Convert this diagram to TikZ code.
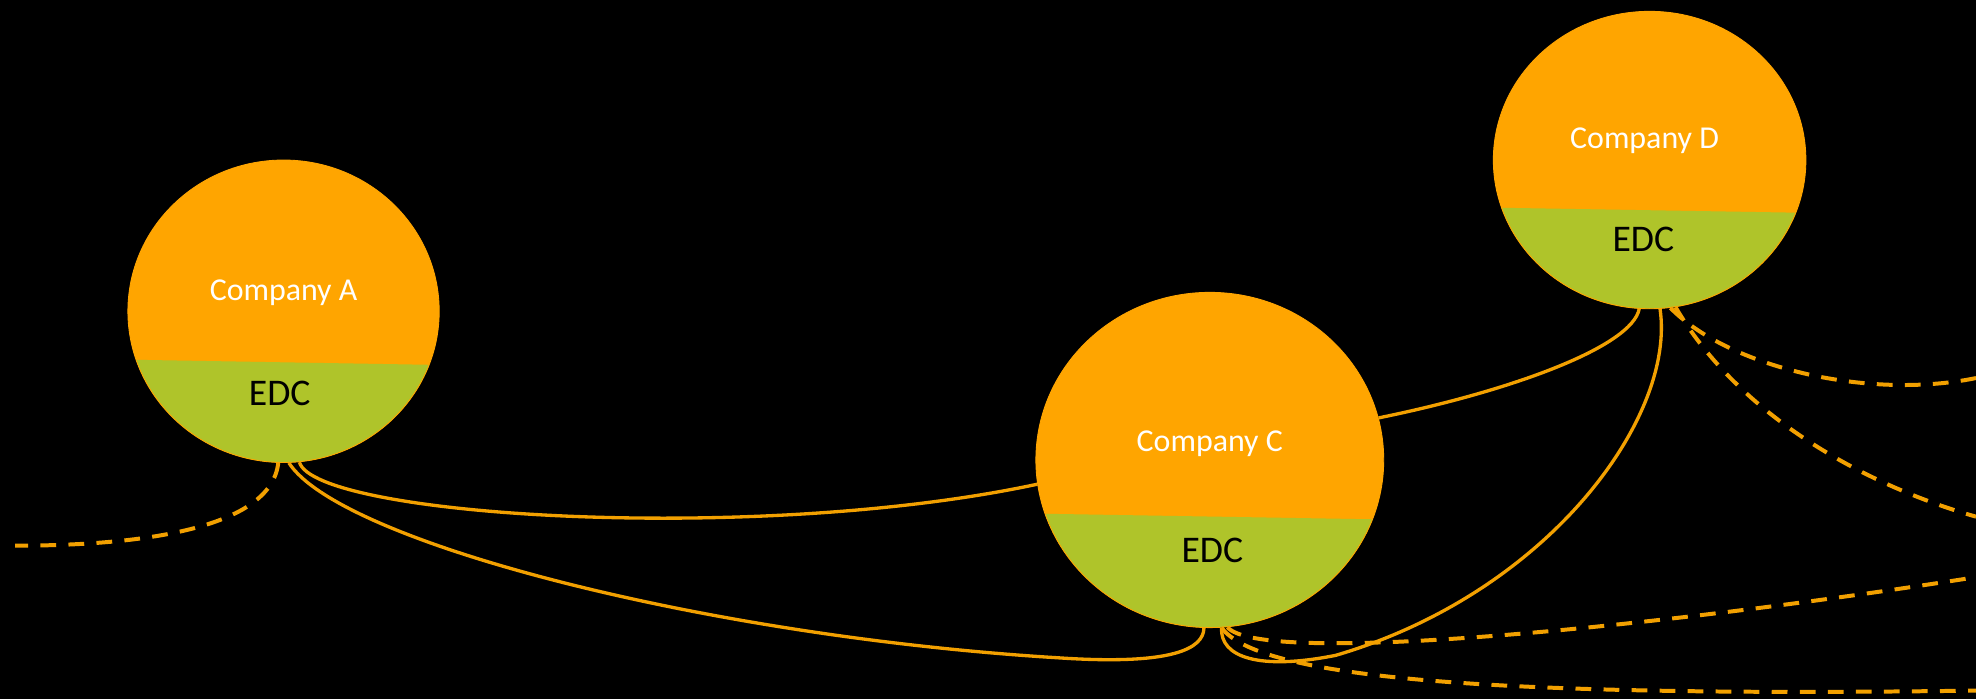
\documentclass[tikz,border=0pt]{standalone}
\usepackage{fontspec}
\setmainfont{Carlito}
\usetikzlibrary{shapes.geometric,calc}
\definecolor{comporange}{RGB}{255,165,0}
\definecolor{edcgreen}{RGB}{175,196,42}
\definecolor{linkorange}{RGB}{242,160,0}
\tikzset{
	company/.style={ellipse, fill=comporange, draw=comporange, line width=0.4pt, inner sep=0pt,
		path picture={\fill[edcgreen] ($(path picture bounding box.west)!0.32!(path picture bounding box.south west)$) -- ($(path picture bounding box.east)!0.355!(path picture bounding box.south east)$) -- (path picture bounding box.south east) -- (path picture bounding box.south west) -- cycle;}},
	compname/.style={text=white, inner sep=0pt, font=\fontsize{14.4}{17}\selectfont},
	edcname/.style={text=black, inner sep=0pt, font=\fontsize{17}{20}\selectfont},
	link/.style={draw=linkorange, line width=1.5pt},
	dashlink/.style={draw=linkorange, line width=1.8pt, dash pattern=on 2.5mm off 1.95mm},
}
\begin{document}
\begin{tikzpicture}[x=0.2mm, y=-0.2mm]
	\fill[black] (0,0) rectangle (1568,554.7);
	\useasboundingbox (0,0) rectangle (1568,554.7);
	% companies
	\node[company, minimum width=49.4mm, minimum height=48mm] (A) at (225,247) {};
	\node[company, minimum width=55.2mm, minimum height=53.2mm] (C) at (960,365) {};
	\node[company, minimum width=49.6mm, minimum height=47.2mm] (D) at (1309,127) {};
	\node[compname] (Aname) at ($(A.center)+(0,-15)$) {Company A};
	\node[edcname] (Aedc) at ($(A.center)+(-3,65)$) {EDC};
	\node[compname] (Cname) at ($(C.center)+(0,-13)$) {Company C};
	\node[edcname] (Cedc) at ($(C.center)+(2,72)$) {EDC};
	\node[compname] (Dname) at ($(D.center)+(-4,-15)$) {Company D};
	\node[edcname] (Dedc) at ($(D.center)+(-5,63)$) {EDC};
	% free ends
	\coordinate (leftend) at (12,433);
	\coordinate (rightD1) at (1568,300);
	\coordinate (rightD2) at (1568,410);
	\coordinate (rightC1) at (1568,458);
	\coordinate (rightC2) at (1568,548);
	% links
	\draw[link] (A.-84) .. controls (250,410) and (600,432) .. (C.188);
	\draw[link] (A.-88) .. controls (270,430) and (560,505) .. (840,522) .. controls (930,528) and (955,515) .. (C.-92);
	\draw[link] (C.14) .. controls (1200,310) and (1295,275) .. (D.-94);
	\draw[link] (D.-86) .. controls (1330,330) and (1230,470) .. (1060,520) .. controls (1000,532) and (968,522) .. (C.-86);
	\draw[dashlink] (A.-92) .. controls (215,420) and (110,433) .. (leftend);
	\draw[dashlink] (D.-82) .. controls (1370,290) and (1480,318) .. (rightD1);
	\draw[dashlink] (D.-80) .. controls (1380,330) and (1480,385) .. (rightD2);
	\draw[dashlink] (C.-84) .. controls (1000,528) and (1300,500) .. (rightC1);
	\draw[dashlink] (C.-86) .. controls (1000,540) and (1200,553) .. (rightC2);
\end{tikzpicture}
\end{document}
